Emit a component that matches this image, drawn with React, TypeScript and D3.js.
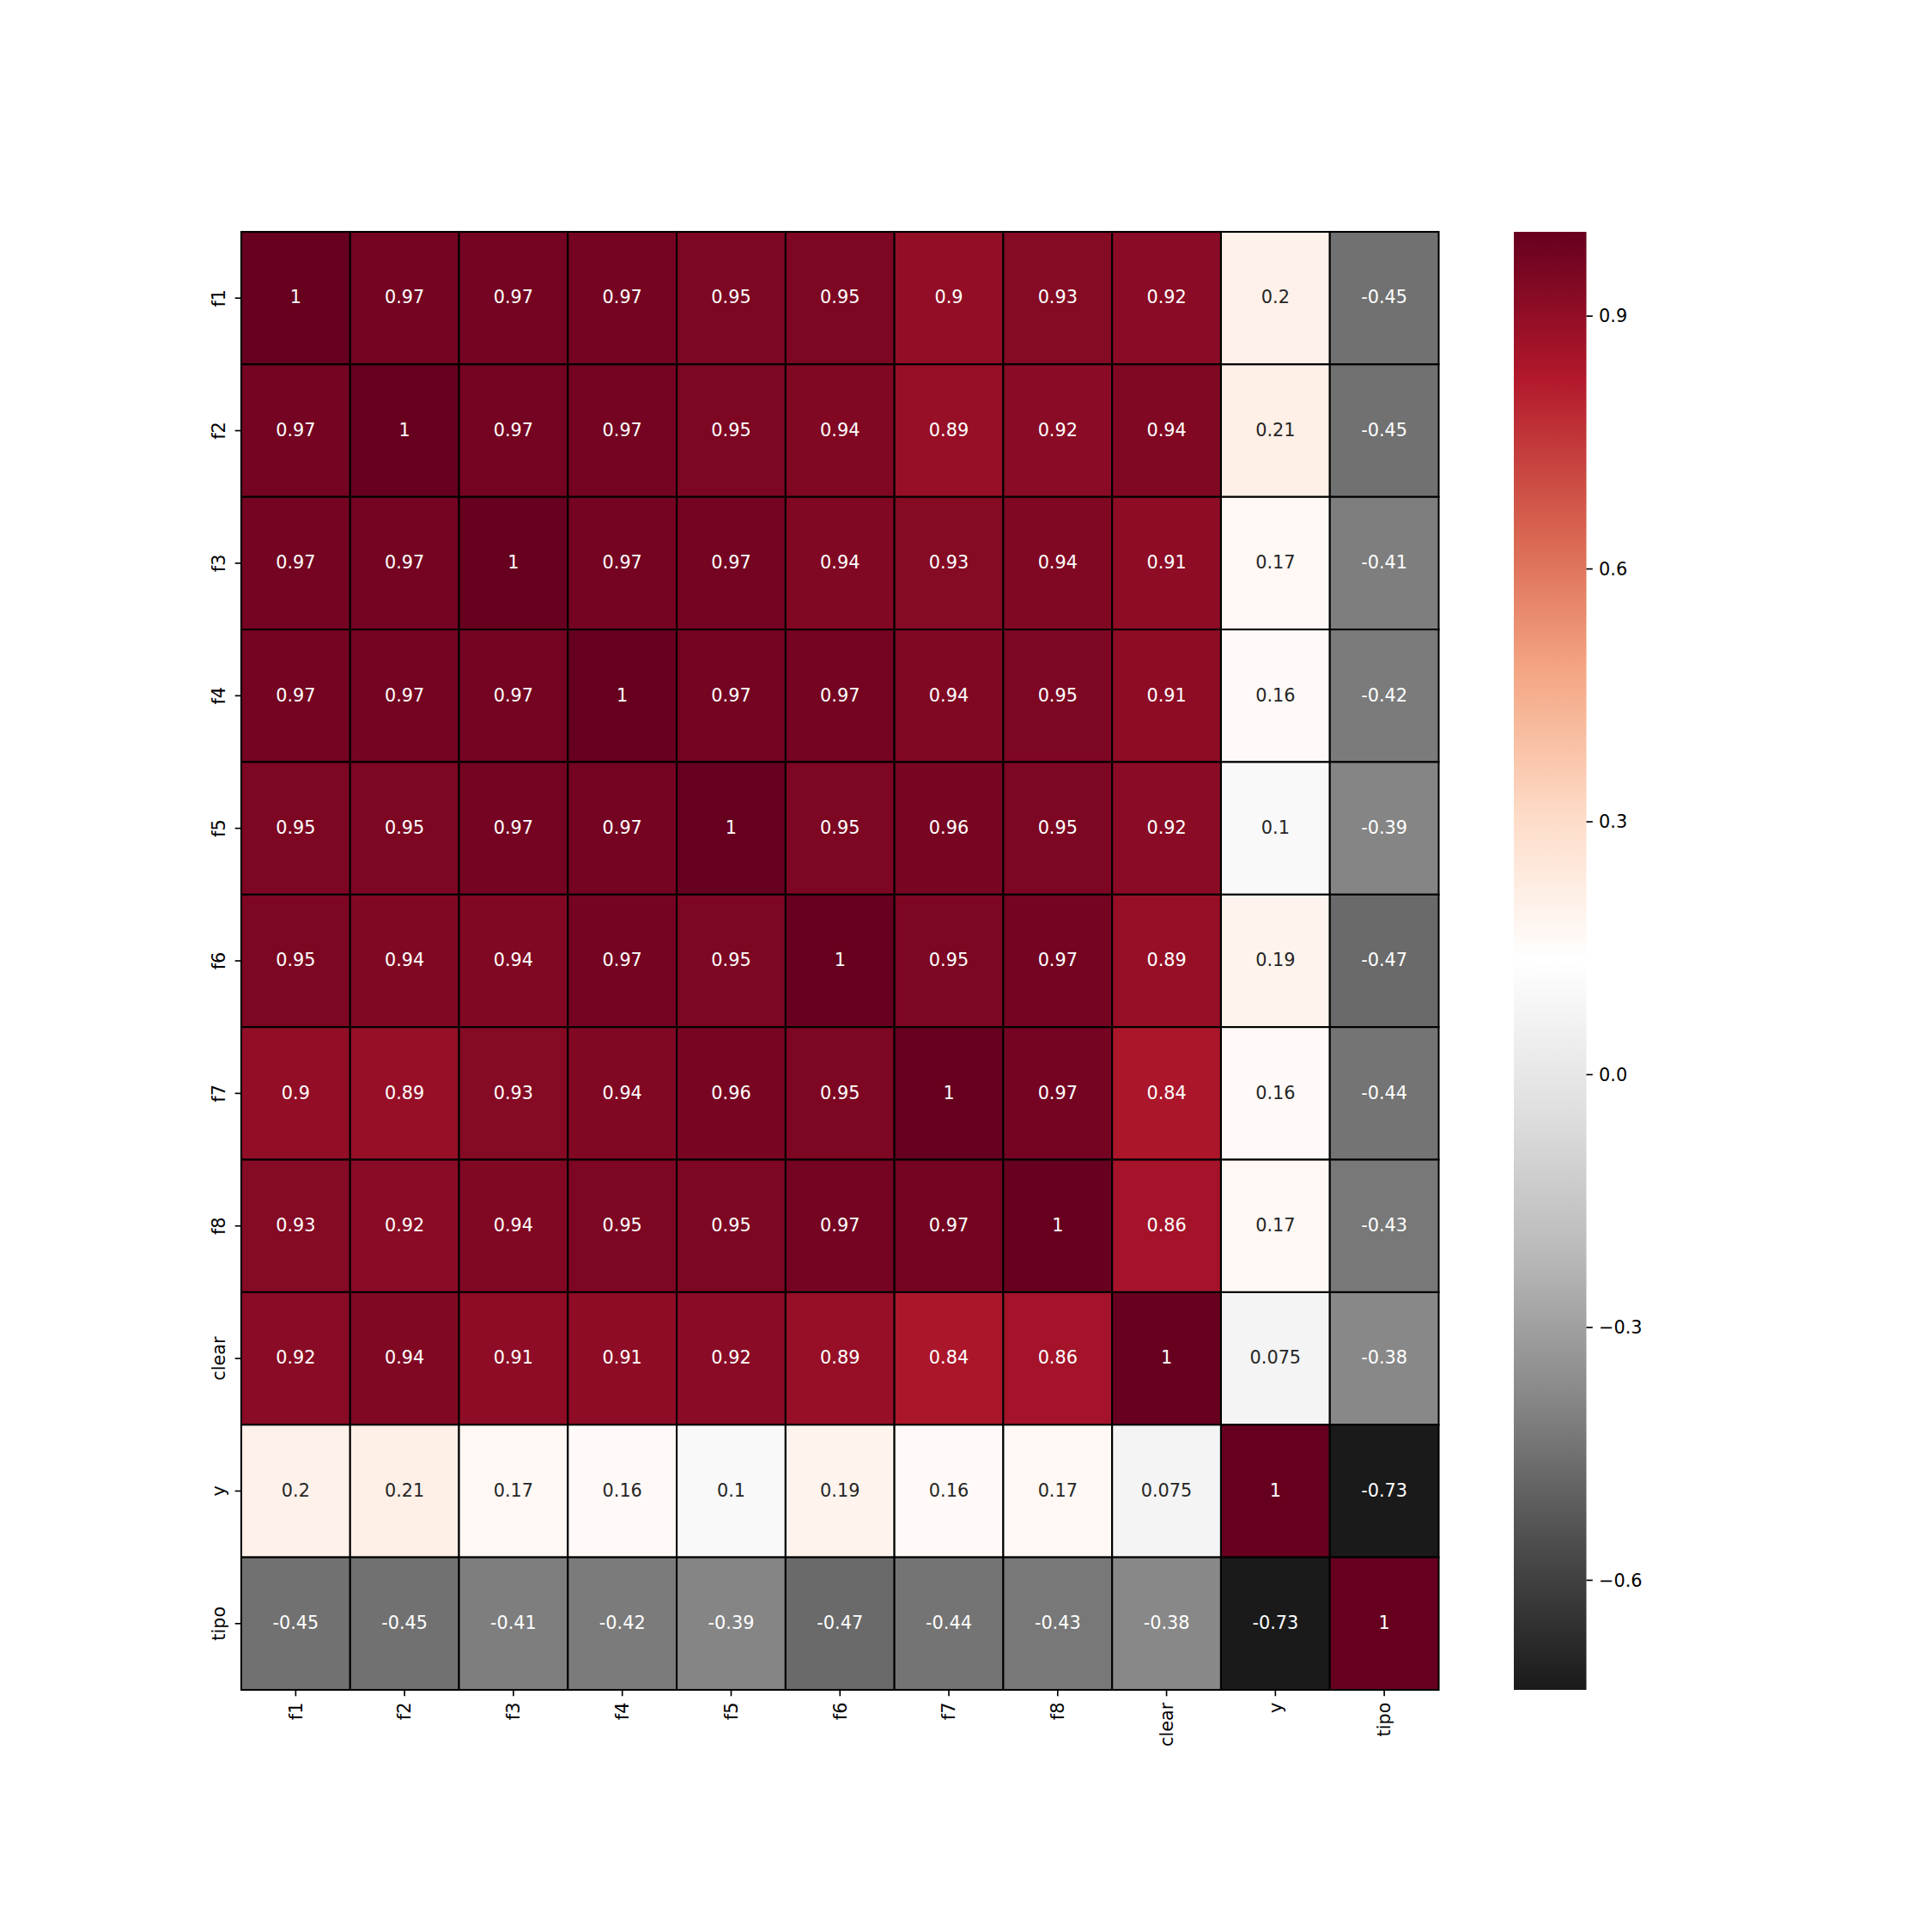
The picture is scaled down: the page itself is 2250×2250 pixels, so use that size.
import * as d3 from 'd3';

// correlation matrix labels and values
const labels = ['f1', 'f2', 'f3', 'f4', 'f5', 'f6', 'f7', 'f8', 'clear', 'y', 'tipo'];

const corr = [
  [1, 0.97, 0.97, 0.97, 0.95, 0.95, 0.9, 0.93, 0.92, 0.2, -0.45],
  [0.97, 1, 0.97, 0.97, 0.95, 0.94, 0.89, 0.92, 0.94, 0.21, -0.45],
  [0.97, 0.97, 1, 0.97, 0.97, 0.94, 0.93, 0.94, 0.91, 0.17, -0.41],
  [0.97, 0.97, 0.97, 1, 0.97, 0.97, 0.94, 0.95, 0.91, 0.16, -0.42],
  [0.95, 0.95, 0.97, 0.97, 1, 0.95, 0.96, 0.95, 0.92, 0.1, -0.39],
  [0.95, 0.94, 0.94, 0.97, 0.95, 1, 0.95, 0.97, 0.89, 0.19, -0.47],
  [0.9, 0.89, 0.93, 0.94, 0.96, 0.95, 1, 0.97, 0.84, 0.16, -0.44],
  [0.93, 0.92, 0.94, 0.95, 0.95, 0.97, 0.97, 1, 0.86, 0.17, -0.43],
  [0.92, 0.94, 0.91, 0.91, 0.92, 0.89, 0.84, 0.86, 1, 0.075, -0.38],
  [0.2, 0.21, 0.17, 0.16, 0.1, 0.19, 0.16, 0.17, 0.075, 1, -0.73],
  [-0.45, -0.45, -0.41, -0.42, -0.39, -0.47, -0.44, -0.43, -0.38, -0.73, 1],
];

const cbarTicks = [-0.6, -0.3, 0.0, 0.3, 0.6, 0.9];

// matplotlib RdGy_r
const rdgyR = ['#1a1a1a', '#4d4d4d', '#878787', '#bababa', '#e0e0e0', '#ffffff',
  '#fddbc7', '#f4a582', '#d6604d', '#b2182b', '#67001f'];

const vmin = -0.73;
const vmax = 1;

const W = 2250;
const H = 2250;
const plot = { left: 281, right: 1675.5, top: 270, bottom: 1968 };
const cbar = { left: 1763, right: 1847.5 };
const FONT = 'DejaVu Sans';
const FS = 20.8;
const TICK = 7.3;
const PAD = 7.3;

const norm = d3.scaleLinear().domain([vmin, vmax]).range([0, 1]);
const cmap = d3.scaleLinear<string>()
  .domain(rdgyR.map((_, i) => i / (rdgyR.length - 1)))
  .range(rdgyR)
  .interpolate(d3.interpolateRgb)
  .clamp(true);
const color = (v: number) => cmap(norm(v));

// seaborn picks annotation colour by relative luminance
function luminance(c: string) {
  const rgb = d3.rgb(c);
  const lin = [rgb.r, rgb.g, rgb.b].map(x => {
    const s = x / 255;
    return s <= 0.03928 ? s / 12.92 : Math.pow((s + 0.055) / 1.055, 2.4);
  });
  return 0.2126 * lin[0] + 0.7152 * lin[1] + 0.0722 * lin[2];
}

export default function App() {
  const x = d3.scaleBand().domain(labels).range([plot.left, plot.right]);
  const y = d3.scaleBand().domain(labels).range([plot.top, plot.bottom]);
  const cy = d3.scaleLinear().domain([vmin, vmax]).range([plot.bottom, plot.top]);
  const fmt = d3.format('.1f');

  const cells = corr.flatMap((row, i) => row.map((v, j) => ({ r: labels[i], c: labels[j], v })));

  return (
    <svg width={W} height={H} style={{ position: 'absolute', left: 0, top: 0, background: '#fff' }}
      fontFamily={FONT}>
      <rect x={0} y={0} width={W} height={H} fill="#fff" />
      <defs>
        <linearGradient id="cbar" x1="0" y1="1" x2="0" y2="0">
          {rdgyR.map((c, i) => (
            <stop key={i} offset={i / (rdgyR.length - 1)} stopColor={c} />
          ))}
        </linearGradient>
      </defs>

      {/* cells */}
      <g>
        {cells.map((d, k) => (
          <rect key={k} x={x(d.c)} y={y(d.r)} width={x.bandwidth()} height={y.bandwidth()}
            fill={color(d.v)} stroke="#000" strokeWidth={2.08} />
        ))}
      </g>

      {/* annotations */}
      <g fontSize={FS} textAnchor="middle">
        {cells.map((d, k) => {
          const fill = luminance(color(d.v)) > 0.408 ? '#262626' : '#ffffff';
          return (
            <text key={k} x={x(d.c)! + x.bandwidth() / 2} y={y(d.r)! + y.bandwidth() / 2}
              dy="0.30em" fill={fill}>{String(d.v)}</text>
          );
        })}
      </g>

      {/* x axis */}
      <g>
        {labels.map(l => {
          const cx = x(l)! + x.bandwidth() / 2;
          return (
            <g key={l}>
              <line x1={cx} x2={cx} y1={plot.bottom} y2={plot.bottom + TICK} stroke="#000" strokeWidth={1.67} />
              <text transform={`translate(${cx},${plot.bottom + TICK + PAD}) rotate(-90)`}
                textAnchor="end" dy="0.35em" fontSize={FS} fill="#000">{l}</text>
            </g>
          );
        })}
      </g>

      {/* y axis */}
      <g>
        {labels.map(l => {
          const cyy = y(l)! + y.bandwidth() / 2;
          return (
            <g key={l}>
              <line x1={plot.left - TICK} x2={plot.left} y1={cyy} y2={cyy} stroke="#000" strokeWidth={1.67} />
              <text transform={`translate(${plot.left - TICK - PAD - 4},${cyy}) rotate(-90)`}
                textAnchor="middle" fontSize={FS} fill="#000">{l}</text>
            </g>
          );
        })}
      </g>

      {/* colorbar */}
      <rect x={cbar.left} y={plot.top} width={cbar.right - cbar.left} height={plot.bottom - plot.top}
        fill="url(#cbar)" />
      <g>
        {cbarTicks.map(t => (
          <g key={t}>
            <line x1={cbar.right} x2={cbar.right + TICK} y1={cy(t)} y2={cy(t)} stroke="#000" strokeWidth={1.67} />
            <text x={cbar.right + TICK + PAD} y={cy(t)} dy="0.35em" fontSize={FS} fill="#000">{fmt(t)}</text>
          </g>
        ))}
      </g>
    </svg>
  );
}
